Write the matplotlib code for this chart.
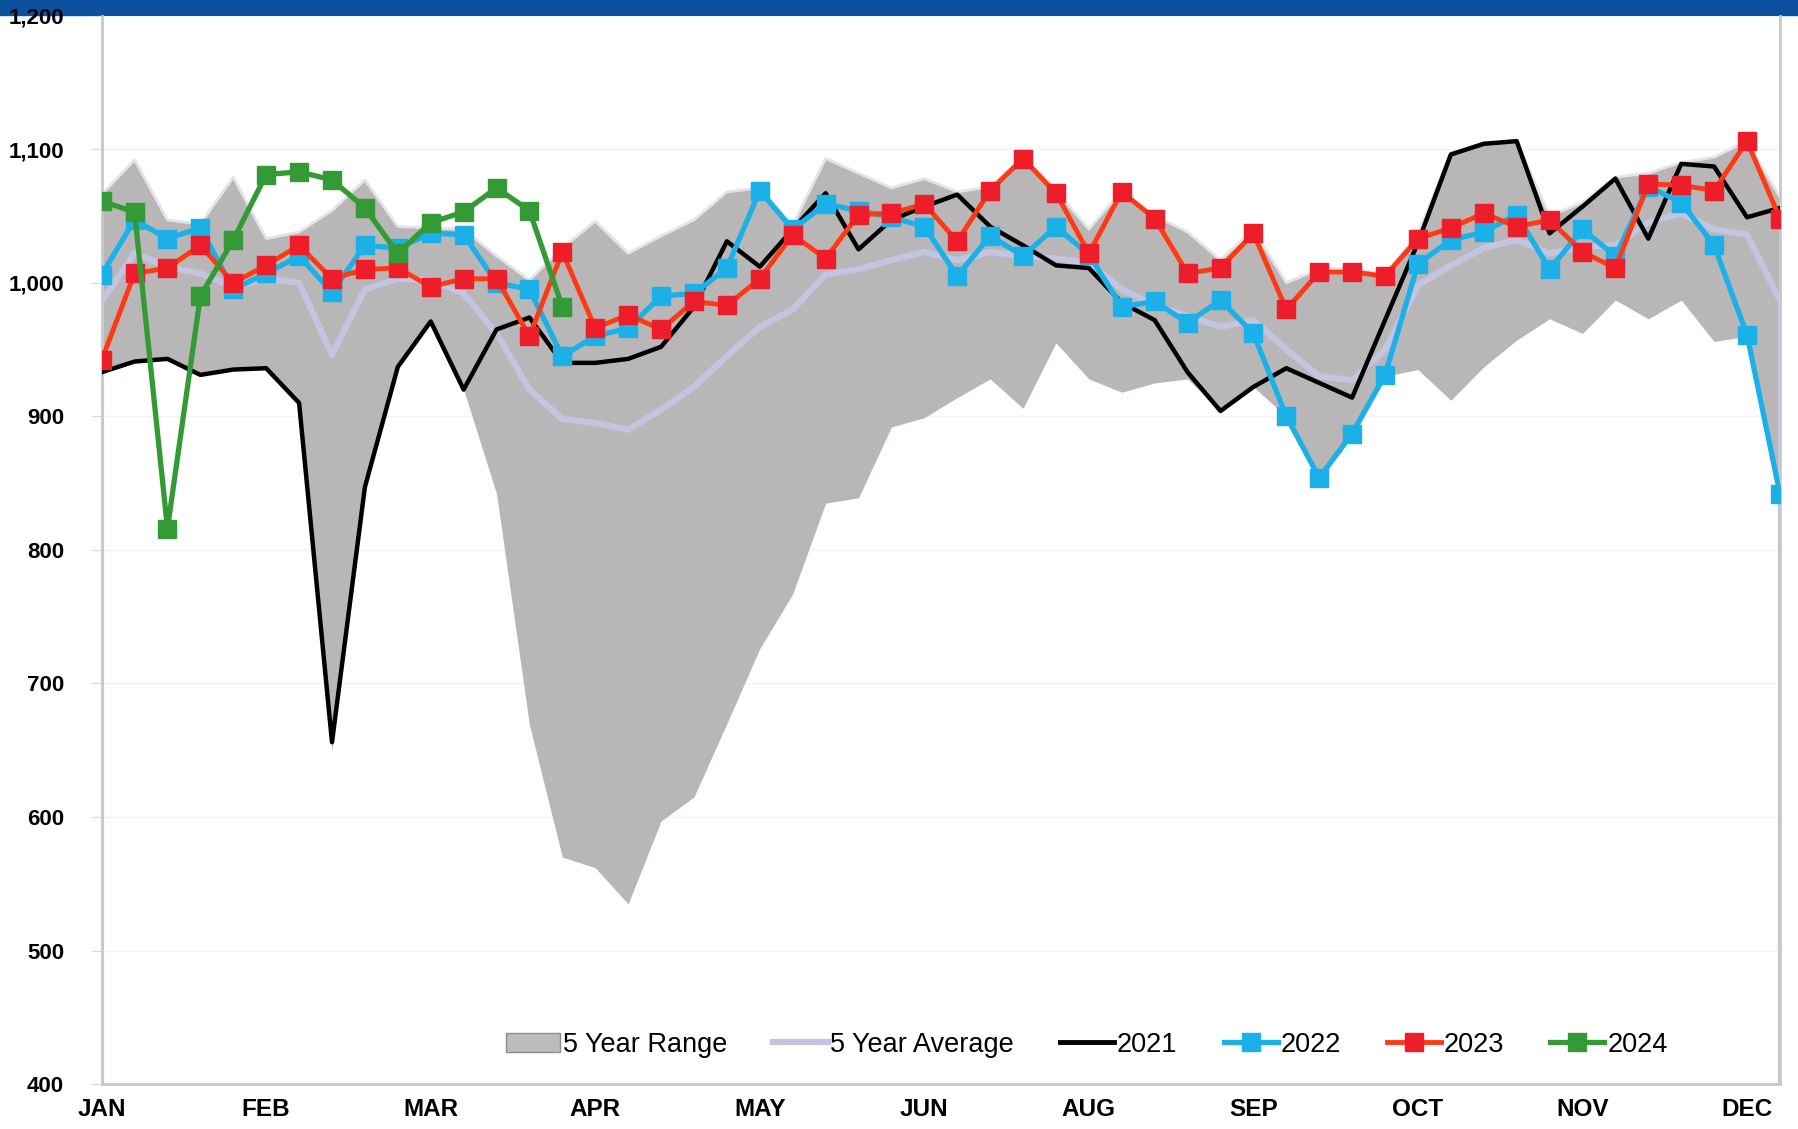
import numpy as np
import matplotlib.pyplot as plt
from matplotlib.patches import Rectangle, Patch
from matplotlib.lines import Line2D

# weekly values, 52 weeks
weeks = np.arange(52)
month_labels = ['JAN', 'FEB', 'MAR', 'APR', 'MAY', 'JUN', 'AUG', 'SEP', 'OCT', 'NOV', 'DEC']

range_top = [1066, 1092, 1047, 1044, 1079, 1033, 1038, 1054, 1077, 1042,
             1041, 1040, 1020, 1002, 1026, 1046, 1022, 1035, 1047, 1068,
             1071, 1043, 1093, 1082, 1071, 1078, 1068, 1072, 1094, 1069,
             1040, 1069, 1050, 1038, 1017, 1040, 1000, 1010, 1011, 1006,
             1037, 1097, 1105, 1106, 1050, 1060, 1079, 1082, 1090, 1094,
             1106, 1064]
range_bot = [933, 941, 943, 931, 935, 936, 910, 650, 847, 937,
             971, 920, 842, 669, 570, 562, 535, 597, 615, 670,
             726, 767, 835, 839, 892, 899, 914, 928, 906, 955,
             928, 918, 925, 928, 904, 922, 900, 854, 887, 930,
             935, 912, 937, 957, 973, 962, 987, 973, 987, 956,
             960, 842]
avg5 = [986, 1022, 1012, 1007, 997, 1003, 1000, 946, 995, 1003,
        1002, 992, 962, 920, 898, 895, 890, 905, 922, 945,
        967, 980, 1006, 1010, 1017, 1023, 1017, 1023, 1020, 1018,
        1015, 995, 983, 975, 967, 972, 950, 930, 927, 950,
        998, 1013, 1026, 1032, 1022, 1027, 1028, 1045, 1052, 1040,
        1036, 987]
y2021 = [933, 941, 943, 931, 935, 936, 910, 656, 847, 937,
         971, 920, 965, 974, 940, 940, 943, 952, 982, 1031,
         1012, 1040, 1067, 1025, 1047, 1057, 1066, 1042, 1028, 1013,
         1011, 985, 972, 933, 904, 922, 936, 925, 914, 972,
         1030, 1096, 1104, 1106, 1037, 1057, 1078, 1033, 1089, 1087,
         1049, 1056]
y2022 = [1006, 1047, 1033, 1041, 995, 1007, 1020, 993, 1028, 1026,
         1037, 1036, 1000, 995, 945, 960, 966, 990, 992, 1011,
         1069, 1040, 1059, 1054, 1049, 1042, 1005, 1035, 1020, 1042,
         1021, 982, 986, 970, 987, 962, 900, 854, 887, 931,
         1014, 1032, 1038, 1051, 1010, 1040, 1020, 1072, 1060, 1028,
         961, 842]
y2023 = [942, 1007, 1011, 1028, 1000, 1013, 1028, 1003, 1010, 1011,
         997, 1003, 1003, 960, 1023, 966, 976, 965, 986, 983,
         1003, 1036, 1018, 1051, 1052, 1059, 1031, 1069, 1093, 1067,
         1022, 1068, 1048, 1007, 1011, 1037, 980, 1008, 1008, 1005,
         1033, 1041, 1052, 1042, 1047, 1023, 1011, 1074, 1073, 1069,
         1106, 1048]
y2024 = [1061, 1053, 816, 990, 1032, 1081, 1083, 1077, 1056, 1022,
         1045, 1053, 1071, 1054, 982]

GRAY = '#b9b6b7'
LAV = '#c3c5e0'
BLUE = '#1bb0e8'
RED_LINE = '#ff3a12'
RED_MK = '#ee1d2a'
GREEN = '#339a35'

fig = plt.figure(figsize=(17.99, 11.29), dpi=100)
ax = fig.add_axes([0.0565, 0.0397, 0.9329, 0.9465])

# blue banner at the top
fig.add_artist(Rectangle((0, 1 - 15 / 1129), 1, 15 / 1129, transform=fig.transFigure,
                         color='#0a519e', zorder=-1))

ax.fill_between(weeks, range_bot, range_top, color=GRAY, lw=0, zorder=1)
ax.plot(weeks, range_top, color='#e4e3e8', lw=2, zorder=1.5)
ax.vlines([weeks[0], weeks[-1]], 400, [avg5[0], avg5[-1]], color=LAV, lw=3, zorder=1.6)
ax.plot(weeks, avg5, color=LAV, lw=4.5, zorder=2)
ax.plot(weeks, y2021, color='black', lw=3.2, zorder=3)
ax.plot(weeks, y2022, color=BLUE, lw=3.8, marker='s', ms=13, mfc=BLUE, mec=BLUE, zorder=4)
ax.plot(weeks, y2023, color=RED_LINE, lw=3.5, marker='s', ms=13, mfc=RED_MK, mec=RED_MK, zorder=5)
ax.plot(weeks[:len(y2024)], y2024, color=GREEN, lw=3.8, marker='s', ms=13,
        mfc=GREEN, mec=GREEN, zorder=6)

ax.set_xlim(0, 51)
ax.set_ylim(400, 1200)
ax.set_yticks(np.arange(400, 1201, 100))
ax.set_yticklabels([f'{v:,}' for v in range(400, 1201, 100)],
                   fontsize=16, fontweight='bold', family='Liberation Sans')
ax.set_xticks(weeks[::5])
ax.set_xticklabels(month_labels, fontsize=17.5, fontweight='bold',
                   family=['Liberation Sans Narrow', 'Liberation Sans'])
ax.tick_params(axis='y', length=8, color='#d9d9d9', pad=19)
ax.tick_params(axis='x', length=0, pad=10)
ax.grid(axis='y', color='#f2f2f2', lw=1)
ax.set_axisbelow(True)
ax.spines['top'].set_visible(False)
for s in ['left', 'right', 'bottom']:
    ax.spines[s].set_color('#c9c9c9')
    ax.spines[s].set_linewidth(2)

handles = [
    Patch(facecolor='#bdbbbc', edgecolor='#8f8d8e', lw=1),
    Line2D([], [], color=LAV, lw=4.5),
    Line2D([], [], color='black', lw=3.5),
    Line2D([], [], color=BLUE, lw=3.8, marker='s', ms=13),
    Line2D([], [], color=RED_LINE, lw=3.5, marker='s', ms=13, mfc=RED_MK, mec=RED_MK),
    Line2D([], [], color=GREEN, lw=3.8, marker='s', ms=13),
]
labels = ['5 Year Range', '5 Year Average', '2021', '2022', '2023', '2024']
ax.legend(handles, labels, loc='center', bbox_to_anchor=(0.587, 0.037), ncol=6,
          frameon=False, handlelength=2.0, handletextpad=0.1, columnspacing=1.7,
          prop={'family': ['Liberation Sans Narrow', 'Liberation Sans'], 'size': 19.5})

fig.savefig('out.png', dpi=100)
